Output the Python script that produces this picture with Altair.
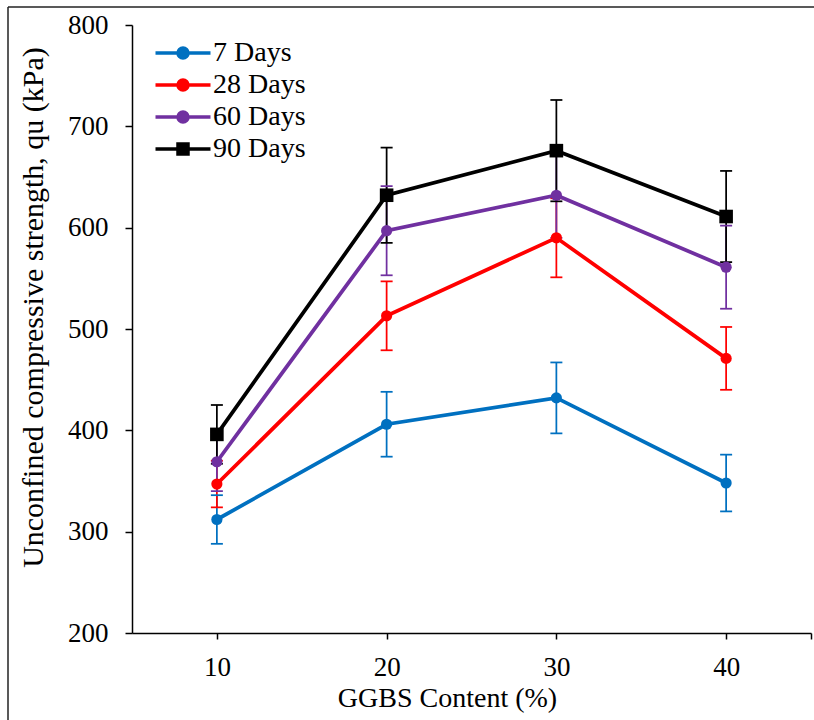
import altair as alt
import pandas as pd

# ---- data ----
ggbs = [10, 20, 30, 40]
series = ["7 Days", "28 Days", "60 Days", "90 Days"]
colors = ["#0070C0", "#FF0000", "#7030A0", "#000000"]

qu_7 = [312, 406, 432, 348]
err_7 = [24, 32, 35, 28]
qu_28 = [347, 513, 590, 471]
err_28 = [23, 34, 39, 31]
qu_60 = [369, 597, 632, 561]
err_60 = [29, 44, 42, 41]
qu_90 = [396, 632, 676, 611]
err_90 = [29, 47, 50, 45]

x_ticks = [10, 20, 30, 40, 45]
y_ticks = [200, 300, 400, 500, 600, 700, 800]

rows = []
for s, vals, errs in zip(series, [qu_7, qu_28, qu_60, qu_90], [err_7, err_28, err_60, err_90]):
    for x, v, e in zip(ggbs, vals, errs):
        rows.append({"series": s, "ggbs": x, "qu": v, "lo": v - e, "hi": v + e})
df = pd.DataFrame(rows)

FONT = "Liberation Serif"
W, H = 679, 608

color_scale = alt.Scale(domain=series, range=colors)
circle_path = "M-5.5,0H5.5M-1,0A1,1,0,1,0,1,0A1,1,0,1,0,-1,0Z"
square_path = "M-5.5,0H5.5M-1,-1H1V1H-1Z"
shape_scale = alt.Scale(domain=series, range=[circle_path, circle_path, circle_path, square_path])

x_enc = alt.X(
    "ggbs:Q",
    scale=alt.Scale(domain=[5, 45], nice=False, zero=False),
    axis=alt.Axis(
        values=x_ticks,
        labelExpr="datum.value == 45 ? '' : datum.label",
        title="GGBS Content (%)",
        titleX=315, titleY=73, titleBaseline="alphabetic", titleAlign="center",
        titleFont=FONT, titleFontSize=28,
        labelFont=FONT, labelFontSize=27,
        labelBaseline="alphabetic", labelPadding=36, tickSize=6,
    ),
)
y_enc = alt.Y(
    "qu:Q",
    scale=alt.Scale(domain=[200, 800], nice=False, zero=False),
    axis=alt.Axis(
        values=y_ticks,
        title="Unconfined compressive strength, qu (kPa)",
        titleAngle=270, titleX=-90, titleY=282, titleBaseline="alphabetic", titleAlign="center",
        titleFont=FONT, titleFontSize=30,
        labelFont=FONT, labelFontSize=27,
        labelPadding=17, tickSize=7,
    ),
)

leg = alt.Legend(
    title="", orient="none", legendX=37, legendY=14,
    symbolSize=100, symbolStrokeWidth=3.5, symbolOpacity=1,
    labelFont=FONT, labelFontSize=28, labelColor="black", labelOffset=16,
    rowPadding=4,
)

base = alt.Chart(df)
col = alt.Color("series:N", scale=color_scale, sort=series, legend=leg)

bars = base.mark_rule(strokeWidth=1.75).encode(
    x=x_enc, y=alt.Y("lo:Q"), y2="hi:Q", color=col
)
caps = base.transform_fold(["lo", "hi"], as_=["end", "val"]).mark_tick(
    orient="horizontal", size=12, thickness=1.75, opacity=1
).encode(x=x_enc, y=alt.Y("val:Q"), color=col)

lines = base.mark_line(strokeWidth=3.75).encode(
    x=x_enc, y=y_enc, detail="series:N", color=col
)
circles = base.transform_filter("datum.series != '90 Days'").mark_point(
    filled=True, shape="circle", size=125, opacity=1
).encode(x=x_enc, y=y_enc, color=col)
squares = base.transform_filter("datum.series == '90 Days'").mark_point(
    filled=True, shape="square", size=185, opacity=1
).encode(x=x_enc, y=y_enc, color=col)

legend_layer = base.mark_point(filled=True, strokeOpacity=0, fillOpacity=0).encode(
    x=x_enc, y=y_enc,
    color=col,
    shape=alt.Shape("series:N", scale=shape_scale, sort=series, legend=leg),
)

one = pd.DataFrame({"a": [0]})
frame_left = alt.Chart(one).mark_rule(color="#222222", strokeWidth=1.5).encode(
    x=alt.value(-124), y=alt.value(-18), y2=alt.value(H + 87)
)
frame_top = alt.Chart(one).mark_rule(color="#222222", strokeWidth=1.5).encode(
    x=alt.value(-124), x2=alt.value(W + 3), y=alt.value(-18)
)

chart = alt.layer(
    frame_left, frame_top, bars, caps, lines, circles, squares, legend_layer
).properties(
    width=W, height=H,
    padding={"left": 132, "top": 25, "right": 3, "bottom": 87},
    autosize=alt.AutoSizeParams(type="none"),
    background="white",
).configure_view(stroke=None).configure_axis(
    grid=False,
    domainColor="black", domainWidth=1.5,
    tickColor="black", tickWidth=1.5,
    labelColor="black",
    titleFontWeight="normal", titleColor="black",
)

chart.save("out.html", embed_options={"renderer": "svg", "actions": False})
